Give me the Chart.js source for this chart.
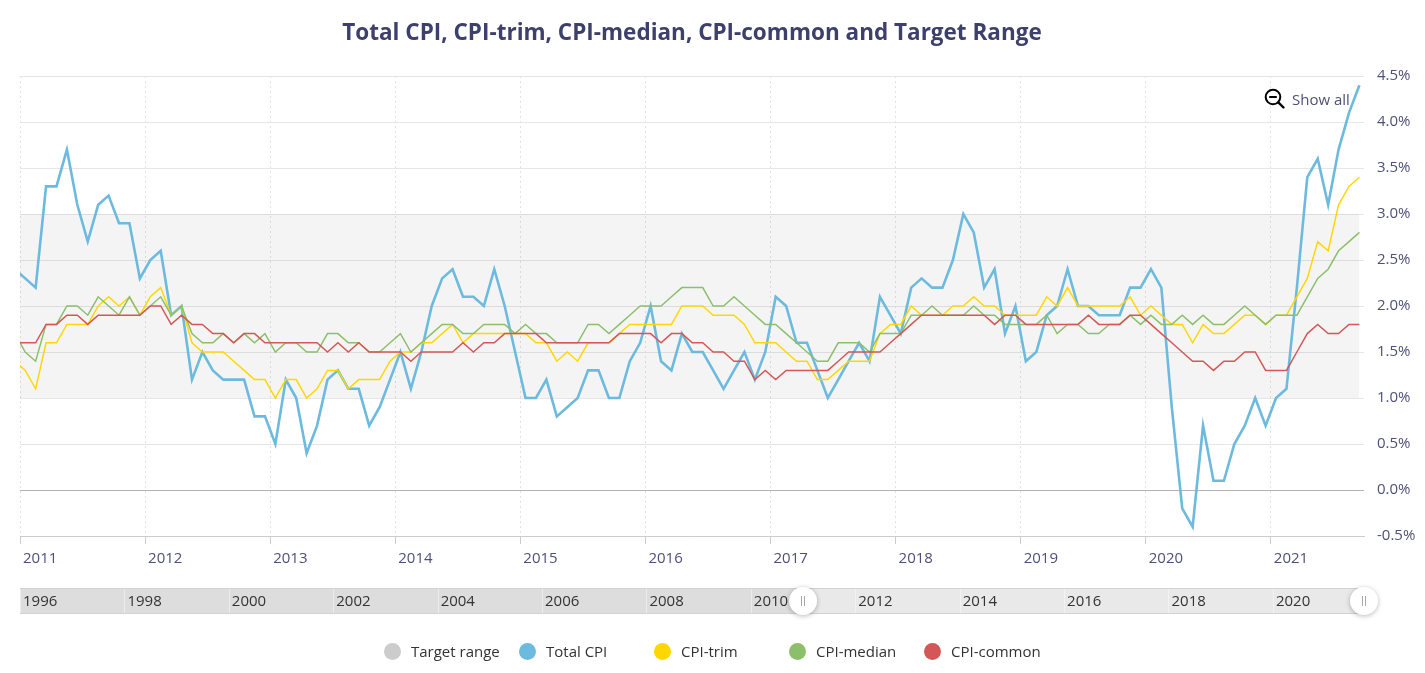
<!DOCTYPE html>
<html>
<head>
<meta charset="utf-8">
<script src="https://cdn.jsdelivr.net/npm/chart.js@4.4.1/dist/chart.umd.min.js"></script>
<style>
  html, body { margin: 0; padding: 0; background: #fff; }
  #wrap { position: relative; width: 1425px; height: 673px; overflow: hidden; }
  #c { position: absolute; left: 0; top: 0; }
  #showall { position: absolute; left: 1264px; top: 88px; height: 22px; display: flex; align-items: center;
             font: 15px 'Open Sans', sans-serif; color: #4e5079; }
  #showall svg { margin-right: 6px; }
  #legend { position: absolute; left: 0; top: 640px; width: 1425px; height: 22px; }
  .li { position: absolute; top: 0; height: 22px; display: flex; align-items: center;
        font: 15px 'Open Sans', sans-serif; color: #333; white-space: nowrap; }
  .dot { width: 17px; height: 17px; border-radius: 50%; margin-right: 10px; flex: none; }
</style>
</head>
<body>
<div id="wrap">
  <canvas id="c" width="1425" height="673"></canvas>
  <div id="showall">
    <svg width="22" height="22" viewBox="0 0 22 22">
      <circle cx="9" cy="9" r="7.3" fill="none" stroke="#000" stroke-width="2"/>
      <line x1="5.2" y1="9" x2="12.8" y2="9" stroke="#000" stroke-width="2"/>
      <line x1="14.3" y1="14.3" x2="19.5" y2="19.5" stroke="#000" stroke-width="2.4" stroke-linecap="round"/>
    </svg><span>Show all</span>
  </div>
  <div id="legend"></div>
</div>
<script>
// ---------------- DATA ----------------
const TITLE = 'Total CPI, CPI-trim, CPI-median, CPI-common and Target Range';
const START_YEAR = 2010, START_MONTH = 12;           // first monthly observation (Dec 2010)
const YEAR_TICKS = [2011, 2012, 2013, 2014, 2015, 2016, 2017, 2018, 2019, 2020, 2021];
const NAV_TICKS = [1996, 1998, 2000, 2002, 2004, 2006, 2008, 2010, 2012, 2014, 2016, 2018, 2020];
const SERIES_NAMES = ['Target range', 'Total CPI', 'CPI-trim', 'CPI-median', 'CPI-common'];
const TARGET_RANGE = [1, 3];

const TOTAL_CPI = [2.4,
  2.3,2.2,3.3,3.3,3.7,3.1,2.7,3.1,3.2,2.9,2.9,2.3,
  2.5,2.6,1.9,2.0,1.2,1.5,1.3,1.2,1.2,1.2,0.8,0.8,
  0.5,1.2,1.0,0.4,0.7,1.2,1.3,1.1,1.1,0.7,0.9,1.2,
  1.5,1.1,1.5,2.0,2.3,2.4,2.1,2.1,2.0,2.4,2.0,1.5,
  1.0,1.0,1.2,0.8,0.9,1.0,1.3,1.3,1.0,1.0,1.4,1.6,
  2.0,1.4,1.3,1.7,1.5,1.5,1.3,1.1,1.3,1.5,1.2,1.5,
  2.1,2.0,1.6,1.6,1.3,1.0,1.2,1.4,1.6,1.4,2.1,1.9,
  1.7,2.2,2.3,2.2,2.2,2.5,3.0,2.8,2.2,2.4,1.7,2.0,
  1.4,1.5,1.9,2.0,2.4,2.0,2.0,1.9,1.9,1.9,2.2,2.2,
  2.4,2.2,0.9,-0.2,-0.4,0.7,0.1,0.1,0.5,0.7,1.0,0.7,
  1.0,1.1,2.2,3.4,3.6,3.1,3.7,4.1,4.4];

const CPI_TRIM = [1.4,
  1.3,1.1,1.6,1.6,1.8,1.8,1.8,2.0,2.1,2.0,2.1,1.9,
  2.1,2.2,1.9,2.0,1.6,1.5,1.5,1.5,1.4,1.3,1.2,1.2,
  1.0,1.2,1.2,1.0,1.1,1.3,1.3,1.1,1.2,1.2,1.2,1.4,
  1.5,1.5,1.6,1.6,1.7,1.8,1.6,1.7,1.7,1.7,1.7,1.7,
  1.7,1.6,1.6,1.4,1.5,1.4,1.6,1.6,1.6,1.7,1.8,1.8,
  1.8,1.8,1.8,2.0,2.0,2.0,1.9,1.9,1.9,1.8,1.6,1.6,
  1.6,1.5,1.4,1.4,1.2,1.2,1.3,1.4,1.4,1.4,1.7,1.8,
  1.8,2.0,1.9,1.9,1.9,2.0,2.0,2.1,2.0,2.0,1.9,1.9,
  1.9,1.9,2.1,2.0,2.2,2.0,2.0,2.0,2.0,2.0,2.1,1.9,
  2.0,1.9,1.8,1.8,1.6,1.8,1.7,1.7,1.8,1.9,1.9,1.8,
  1.9,1.9,2.1,2.3,2.7,2.6,3.1,3.3,3.4];

const CPI_MEDIAN = [1.7,
  1.5,1.4,1.8,1.8,2.0,2.0,1.9,2.1,2.0,1.9,2.1,1.9,
  2.0,2.1,1.9,2.0,1.7,1.6,1.6,1.7,1.6,1.7,1.6,1.7,
  1.5,1.6,1.6,1.5,1.5,1.7,1.7,1.6,1.6,1.5,1.5,1.6,
  1.7,1.5,1.6,1.7,1.8,1.8,1.7,1.7,1.8,1.8,1.8,1.7,
  1.8,1.7,1.7,1.6,1.6,1.6,1.8,1.8,1.7,1.8,1.9,2.0,
  2.0,2.0,2.1,2.2,2.2,2.2,2.0,2.0,2.1,2.0,1.9,1.8,
  1.8,1.7,1.6,1.5,1.4,1.4,1.6,1.6,1.6,1.5,1.7,1.7,
  1.7,1.9,1.9,2.0,1.9,1.9,1.9,2.0,1.9,1.9,1.8,1.8,
  1.8,1.8,1.9,1.7,1.8,1.8,1.7,1.7,1.8,1.8,1.9,1.8,
  1.9,1.8,1.8,1.9,1.8,1.9,1.8,1.8,1.9,2.0,1.9,1.8,
  1.9,1.9,1.9,2.1,2.3,2.4,2.6,2.7,2.8];

const CPI_COMMON = [1.6,
  1.6,1.6,1.8,1.8,1.9,1.9,1.8,1.9,1.9,1.9,1.9,1.9,
  2.0,2.0,1.8,1.9,1.8,1.8,1.7,1.7,1.6,1.7,1.7,1.6,
  1.6,1.6,1.6,1.6,1.6,1.5,1.6,1.5,1.6,1.5,1.5,1.5,
  1.5,1.4,1.5,1.5,1.5,1.5,1.6,1.5,1.6,1.6,1.7,1.7,
  1.7,1.7,1.6,1.6,1.6,1.6,1.6,1.6,1.6,1.7,1.7,1.7,
  1.7,1.6,1.7,1.7,1.6,1.6,1.5,1.5,1.4,1.4,1.2,1.3,
  1.2,1.3,1.3,1.3,1.3,1.3,1.4,1.5,1.5,1.5,1.5,1.6,
  1.7,1.8,1.9,1.9,1.9,1.9,1.9,1.9,1.9,1.8,1.9,1.9,
  1.8,1.8,1.8,1.8,1.8,1.8,1.9,1.8,1.8,1.8,1.9,1.9,
  1.8,1.7,1.6,1.5,1.4,1.4,1.3,1.4,1.4,1.5,1.5,1.3,
  1.3,1.3,1.5,1.7,1.8,1.7,1.7,1.8,1.8];

// ---------------- STYLE ----------------
const FONT = "'Open Sans', sans-serif";
const LABEL_COLOR = '#4e5079';
const COLORS = ['#cccccc', '#6cbade', '#ffd700', '#8cbf6b', '#d45757'];
const X_MIN = 2011, X_MAX = 2021.745, NAV_MIN = 1996;

// month index -> decimal year at mid-month
const monthX = i => {
  const m = START_MONTH - 1 + i;
  return START_YEAR + Math.floor(m / 12) + ((m % 12) + 0.5) / 12;
};
const toPoints = arr => arr.map((v, i) => ({ x: monthX(i), y: v }));

function draw() {
  const navigatorPlugin = {
    id: 'navigator',
    afterDraw(chart) {
      const { ctx, chartArea } = chart;
      const left = chartArea.left, right = chartArea.right;
      const top = 588, h = 26, cy = top + h / 2;
      const px = v => left + (v - NAV_MIN) / (X_MAX - NAV_MIN) * (right - left);
      const selL = px(chart.scales.x.min), selR = px(chart.scales.x.max);
      ctx.save();
      ctx.fillStyle = '#dddddd';
      ctx.fillRect(left, top, right - left, h);
      ctx.fillStyle = '#e9e9e9';
      ctx.fillRect(selL, top, selR - selL, h);
      ctx.lineWidth = 1;
      ctx.strokeStyle = 'rgba(255,255,255,0.45)';
      NAV_TICKS.forEach(v => {
        const x = Math.round(px(v)) + 0.5;
        ctx.beginPath(); ctx.moveTo(x, top); ctx.lineTo(x, top + h); ctx.stroke();
      });
      ctx.strokeStyle = '#d2d2d2';
      ctx.beginPath();
      ctx.moveTo(left, top + 0.5); ctx.lineTo(right, top + 0.5);
      ctx.moveTo(left, top + h - 0.5); ctx.lineTo(right, top + h - 0.5);
      ctx.stroke();
      ctx.fillStyle = '#333333';
      ctx.font = '15px ' + FONT;
      ctx.textAlign = 'left';
      ctx.textBaseline = 'middle';
      NAV_TICKS.forEach(v => ctx.fillText(String(v), px(v) + 3, cy + 1));
      [selL, selR].forEach(x => {
        ctx.save();
        ctx.shadowColor = 'rgba(0,0,0,0.28)';
        ctx.shadowBlur = 5;
        ctx.shadowOffsetY = 1;
        ctx.fillStyle = '#ffffff';
        ctx.beginPath(); ctx.arc(x, cy, 14, 0, Math.PI * 2); ctx.fill();
        ctx.restore();
        ctx.strokeStyle = '#a8a8a8';
        ctx.lineWidth = 1;
        ctx.beginPath();
        ctx.moveTo(Math.round(x) - 1.5, cy - 5); ctx.lineTo(Math.round(x) - 1.5, cy + 5);
        ctx.moveTo(Math.round(x) + 1.5, cy - 5); ctx.lineTo(Math.round(x) + 1.5, cy + 5);
        ctx.stroke();
      });
      ctx.restore();
    }
  };

  const band = TOTAL_CPI.map(() => TARGET_RANGE[1]);
  const lineDs = (label, data, color, width, order) => ({
    label, data: toPoints(data), borderColor: color, backgroundColor: color,
    borderWidth: width, pointRadius: 0, tension: 0, fill: false, order, clip: 0
  });

  const chart = new Chart(document.getElementById('c'), {
    type: 'line',
    data: {
      datasets: [
        { label: SERIES_NAMES[0], data: toPoints(band), fill: { value: TARGET_RANGE[0] },
          backgroundColor: 'rgba(0,0,0,0.045)', borderWidth: 0, borderColor: 'rgba(0,0,0,0)',
          pointRadius: 0, order: 10, clip: 0, legendColor: COLORS[0] },
        lineDs(SERIES_NAMES[1], TOTAL_CPI, COLORS[1], 2.6, 5),
        lineDs(SERIES_NAMES[2], CPI_TRIM, COLORS[2], 1.5, 4),
        lineDs(SERIES_NAMES[3], CPI_MEDIAN, COLORS[3], 1.5, 3),
        lineDs(SERIES_NAMES[4], CPI_COMMON, COLORS[4], 1.5, 2)
      ]
    },
    options: {
      responsive: false,
      animation: false,
      devicePixelRatio: 1,
      layout: { padding: { left: 20, right: 0, top: 0, bottom: 97 } },
      plugins: {
        legend: { display: false },
        tooltip: { enabled: false },
        title: {
          display: true, text: TITLE, color: '#3d3f6d', fullSize: false,
          font: { family: FONT, size: 22.5, weight: 'bold', lineHeight: 1.2 },
          padding: { top: 20, bottom: 29 }
        }
      },
      scales: {
        x: {
          type: 'linear', min: X_MIN, max: X_MAX,
          afterBuildTicks: s => { s.ticks = YEAR_TICKS.map(v => ({ value: v })); },
          afterFit: s => { s.height = 40; },
          grid: { color: '#e2e2e2', lineWidth: 1, drawTicks: true, tickLength: 8,
                  tickColor: '#cccccc', tickWidth: 1 },
          border: { display: true, color: '#cccccc', width: 1, dash: [2, 3] },
          ticks: { color: LABEL_COLOR, font: { family: FONT, size: 15 }, align: 'start',
                   labelOffset: 3, padding: 6, maxRotation: 0, autoSkip: false,
                   callback: v => String(v) }
        },
        y: {
          position: 'right', min: -0.5, max: 4.5,
          afterFit: s => { s.width = 61; },
          border: { display: false },
          grid: { drawTicks: false, lineWidth: 1,
                  color: c => (c.tick && c.tick.value === 0) ? '#b4b4b4' : '#e6e6e6' },
          ticks: { stepSize: 0.5, padding: 13, color: LABEL_COLOR, font: { family: FONT, size: 15 },
                   callback: v => v.toFixed(1) + '%' }
        }
      }
    },
    plugins: [navigatorPlugin]
  });

  // HTML legend built from the chart's datasets
  const legend = document.getElementById('legend');
  chart.data.datasets.forEach((ds, i) => {
    const item = document.createElement('div');
    item.className = 'li';
    item.style.left = (384 + 135 * i) + 'px';
    const dot = document.createElement('span');
    dot.className = 'dot';
    dot.style.background = ds.legendColor || ds.borderColor;
    const txt = document.createElement('span');
    txt.textContent = ds.label;
    item.appendChild(dot); item.appendChild(txt);
    legend.appendChild(item);
  });
}

if (document.fonts && document.fonts.load) {
  Promise.all([
    document.fonts.load("15px 'Open Sans'"),
    document.fonts.load("bold 22px 'Open Sans'")
  ]).then(draw, draw);
} else {
  draw();
}
</script>
</body>
</html>
